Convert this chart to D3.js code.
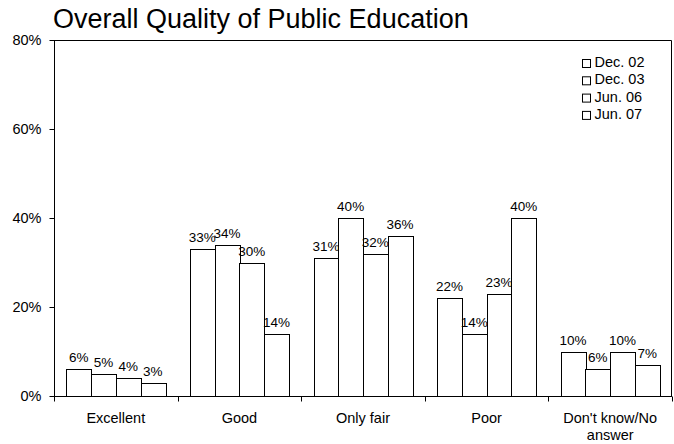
<!DOCTYPE html>
<html><head><meta charset="utf-8">
<script src="https://cdn.jsdelivr.net/npm/d3@7"></script>
<style>body{margin:0;background:#fff}svg{display:block;font-family:"Liberation Sans",Arial,sans-serif}</style>
</head><body>
<script>
const categories = ["Excellent","Good","Only fair","Poor","Don't know/No answer"];
const series = ["Dec. 02","Dec. 03","Jun. 06","Jun. 07"];
const dec02 = [6,33,31,22,10];
const dec03 = [5,34,40,14,6];
const jun06 = [4,30,32,23,10];
const jun07 = [3,14,36,40,7];
const yTicks = [0,20,40,60,80];
const values = [dec02,dec03,jun06,jun07];

const W=674,H=444;
const m={left:54,right:2,top:40,bottom:48};
const svg=d3.select("body").append("svg").attr("width",W).attr("height",H);
const x0=d3.scaleBand().domain(categories).range([m.left,W-m.right]).paddingInner(0).paddingOuter(0);
const x1=d3.scaleBand().domain(series).range([0,x0.bandwidth()]).paddingInner(0).paddingOuter(0.5);
const y=d3.scaleLinear().domain([0,80]).range([H-m.bottom,m.top]);

svg.append("text").attr("x",53).attr("y",28).attr("font-size",27).text("Overall Quality of Public Education");

// frame top & right
svg.append("path").attr("d",`M${m.left},${m.top+0.5}H${W-m.right-0.5}V${H-m.bottom}`).attr("fill","none").attr("stroke","#000").attr("stroke-width",1);

const g=svg.append("g");
categories.forEach((c,ci)=>{
  series.forEach((s,si)=>{
    const v=values[si][ci];
    const bx=x0(c)+x1(s);
    g.append("rect").attr("x",Math.round(bx)+0.5).attr("y",Math.round(y(v))+0.5)
      .attr("width",Math.round(x1.bandwidth())).attr("height",Math.round(y(0))-Math.round(y(v)))
      .attr("fill","#fff").attr("stroke","#000").attr("stroke-width",1);
    g.append("text").attr("x",bx+x1.bandwidth()/2).attr("y",y(v)-7).attr("text-anchor","middle")
      .attr("font-size",13.5).attr("fill","#000").text(v+"%");
  });
});

// y axis
const ya=svg.append("g").attr("transform",`translate(${m.left+0.5},0)`)
  .call(d3.axisLeft(y).tickValues(yTicks).tickSize(5).tickPadding(8).tickFormat(d=>d+"%"));
ya.selectAll("text").attr("font-size",14.5).attr("font-family","Liberation Sans, Arial, sans-serif").attr("fill","#000");
ya.select(".domain").attr("d",`M0,${y(80)}V${y(0)}`);

// x axis
const xa=svg.append("g").attr("transform",`translate(0,${y(0)+0.5})`);
xa.append("line").attr("x1",m.left).attr("x2",W-m.right).attr("stroke","#000");
const bounds=categories.map(c=>x0(c)).concat([W-m.right]);
bounds.forEach(b=>xa.append("line").attr("x1",Math.round(b)+0.5).attr("x2",Math.round(b)+0.5).attr("y1",0).attr("y2",5).attr("stroke","#000"));
categories.forEach(c=>{
  const t=xa.append("text").attr("x",x0(c)+x0.bandwidth()/2).attr("y",26).attr("text-anchor","middle").attr("font-size",14.5);
  const parts=c==="Don't know/No answer"?["Don't know/No","answer"]:[c];
  parts.forEach((p,i)=>t.append("tspan").attr("x",x0(c)+x0.bandwidth()/2).attr("dy",i?17:0).text(p));
});

// legend
const lg=svg.append("g").attr("transform","translate(582,67)");
series.forEach((s,i)=>{
  lg.append("rect").attr("x",0.5).attr("y",i*17.3-7.5).attr("width",8).attr("height",8).attr("fill","#fff").attr("stroke","#000");
  lg.append("text").attr("x",12.5).attr("y",i*17.3).attr("font-size",14.5).text(s);
});
</script>
</body></html>
